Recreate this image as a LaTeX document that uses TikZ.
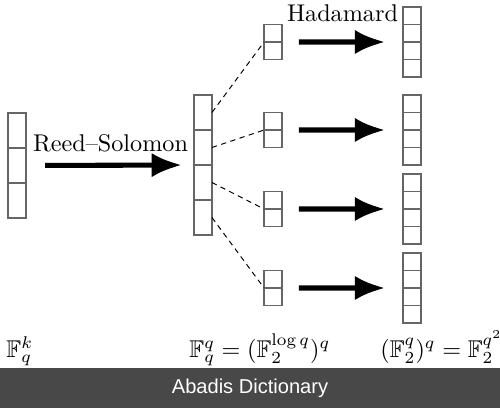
\documentclass[tikz,border=0pt]{standalone}
\usepackage{amsmath,amssymb}
\usepackage{fontspec}
\usepackage{tikz}
\usetikzlibrary{positioning,arrows.meta}
\newfontfamily\bannerfont{Liberation Sans}
\definecolor{bannergray}{RGB}{72,72,72}

\begin{document}
\begin{tikzpicture}[x=0.4132pt, y=-0.4132pt,
  cell/.style={draw=black!60, line width=0.5pt, minimum width=7.4pt, inner sep=0pt, outer sep=0pt},
  bigcell/.style={cell, minimum height=14.46pt},
  smallcell/.style={cell, minimum height=7.23pt},
  thickarrow/.style={-{Latex[length=12.5pt,width=10pt]}, line width=2.1pt},
  spread/.style={dash pattern=on 2.2pt off 1.8pt, line width=0.4pt}]
\useasboundingbox (0,0) rectangle (500,408);
% message and Reed--Solomon codeword
\foreach \i in {1,2,3} \node[bigcell] (l\i) at (17,95.5+35*\i) {};
\foreach \i in {1,...,4} \node[bigcell] (m\i) at (203,77.5+35*\i) {};
\draw[thickarrow, shorten <=7.9pt, shorten >=5pt] (l2.east) -- (m2.south west);
\node[anchor=base] (rs) at (110.5,152) {Reed--Solomon};
% each symbol in bits, then Hadamard encoded
\foreach \i/\y in {1/42,2/130,3/209,4/288} {
  \node[smallcell, anchor=south] (s\i a) at (273,\y) {};
  \node[smallcell, anchor=north] (s\i b) at (273,\y) {};
  \foreach \j in {1,...,4} \node[smallcell] (h\i\j) at (412,\y-43.75+17.5*\j) {};
  \draw[spread] (m\i.east) -- (s\i a.south west);
  \draw[thickarrow, shorten <=7pt, shorten >=7.4pt] (s\i a.south east) -- (h\i2.south west);
}
\node[anchor=base] (had) at (342.5,22) {Hadamard};
% fields
\node[anchor=base west, inner sep=0pt] (fk) at (6,357) {$\mathbb{F}_q^k$};
\node[anchor=base west, inner sep=0pt] (fq) at (189,357) {$\mathbb{F}_q^q = (\mathbb{F}_2^{\log q})^q$};
\node[anchor=base west, inner sep=0pt] (f2) at (380,357) {$(\mathbb{F}_2^q)^q = \mathbb{F}_2^{q^2}$};
% banner
\fill[bannergray] (0,368) rectangle (500,408);
\node[anchor=base, text=white, font=\bannerfont\fontsize{8.3}{10}\selectfont] (brand) at (250,393.5) {Abadis Dictionary};
\end{tikzpicture}
\end{document}
